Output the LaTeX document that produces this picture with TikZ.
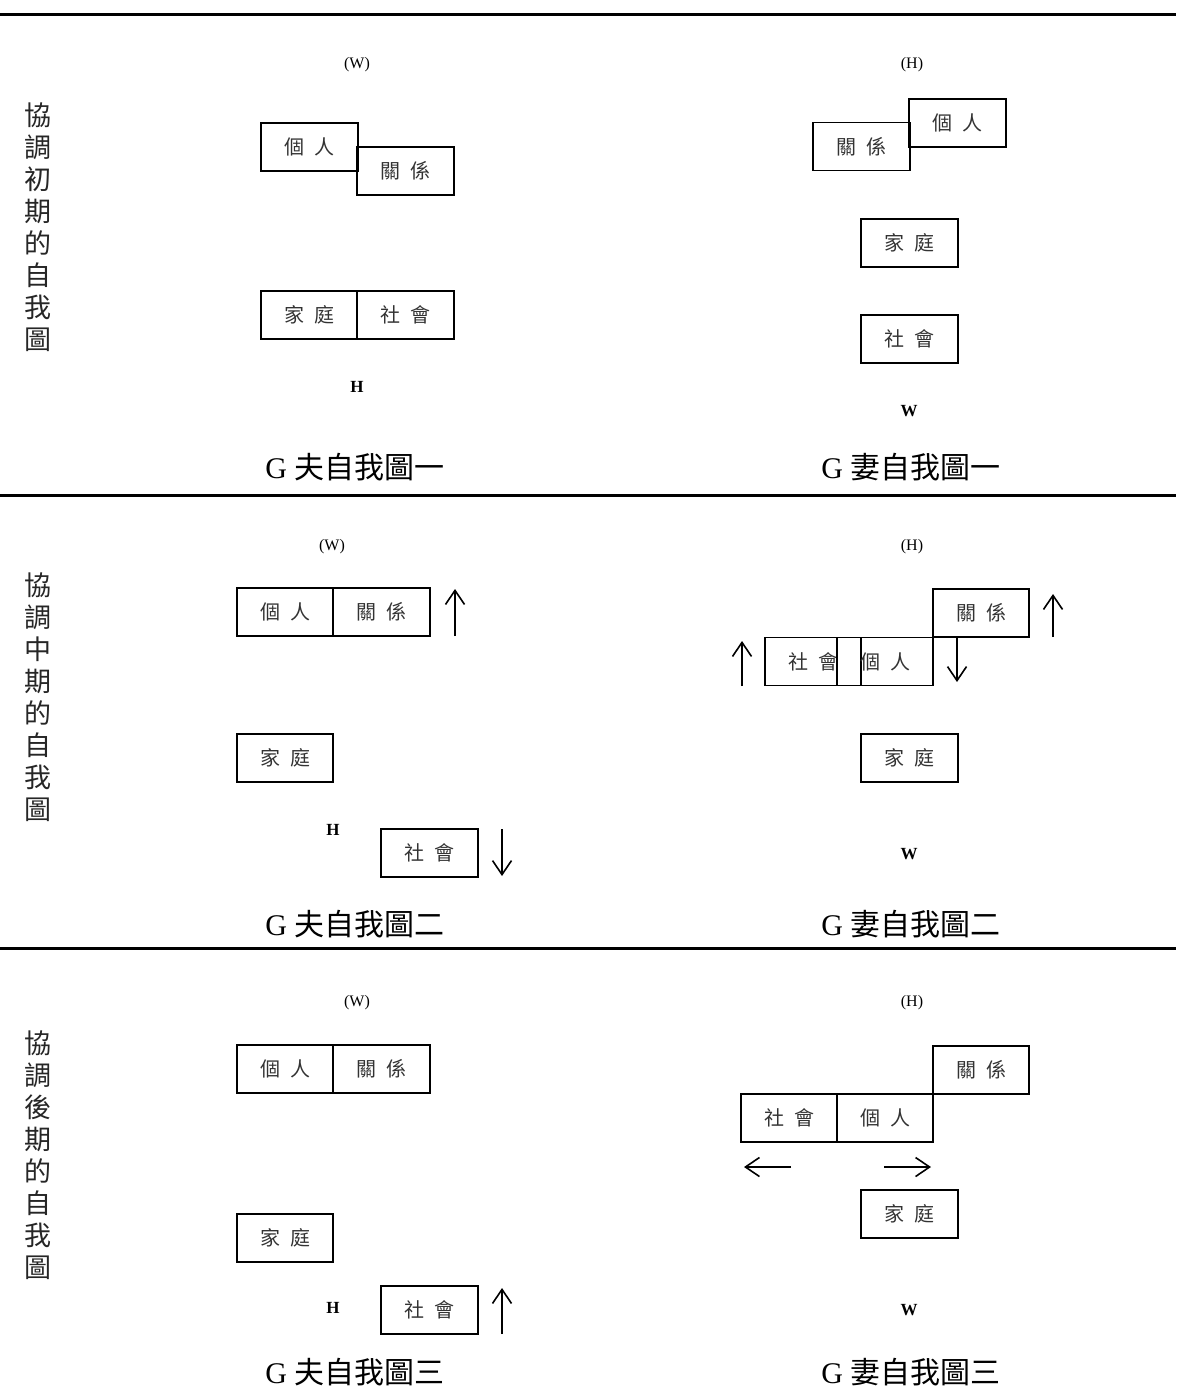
\documentclass[tikz,border=0pt]{standalone}
\usepackage{fontspec}
\setmainfont{Liberation Serif}
\newfontfamily\cjk{Noto Sans CJK TC}
\usetikzlibrary{arrows.meta}
\tikzset{
  cbox/.style={draw, line width=1.8pt, minimum width=96.5pt, minimum height=48pt, inner sep=0pt,
    font=\cjk\fontsize{20}{20}\selectfont, text=black!80},
  tagtext/.style={font=\fontsize{16}{16}\selectfont},
  whotext/.style={font=\bfseries\fontsize{17}{17}\selectfont},
  captext/.style={font=\fontsize{30}{30}\selectfont},
  sidelabel/.style={align=center, font=\cjk\fontsize{27}{32}\selectfont, text=black!85},
  sectrule/.style={line width=3pt},
  mvarrow/.style={line width=1.6pt, -{Straight Barb[length=14pt,width=19pt,line width=1.6pt]}}
}
\newcommand{\gapsp}{\hspace{0.5em}}
\begin{document}
\begin{tikzpicture}[x=1pt,y=-1pt]
\useasboundingbox (0,0) rectangle (1176,1394);
% rules
\coordinate (a0) at (0,14.5); \coordinate (a1) at (1176,14.5);
\coordinate (b0) at (0,495); \coordinate (b1) at (1176,495);
\coordinate (c0) at (0,948.5); \coordinate (c1) at (1176,948.5);
\draw[sectrule] (a0) -- (a1);
\draw[sectrule] (b0) -- (b1);
\draw[sectrule] (c0) -- (c1);
% side labels
\node[sidelabel] (v1) at (38,227) {協\\調\\初\\期\\的\\自\\我\\圖};
\node[sidelabel] (v2) at (38,697) {協\\調\\中\\期\\的\\自\\我\\圖};
\node[sidelabel] (v3) at (38,1155) {協\\調\\後\\期\\的\\自\\我\\圖};
% ===== section 1 =====
\node[tagtext] (tw1) at (357,65) {(W)};
\node[tagtext] (th1) at (912,65) {(H)};
\node[cbox] (p1L) at (309.5,147) {個\gapsp 人};
\node[cbox] (r1L) at (405.5,171) {關\gapsp 係};
\node[cbox] (f1L) at (309,315) {家\gapsp 庭};
\node[cbox] (s1L) at (405.5,315) {社\gapsp 會};
\node[whotext] (h1) at (357,387) {H};
\node[cbox] (r1R) at (861.5,146.5) {關\gapsp 係};
\node[cbox] (p1R) at (957.5,123) {個\gapsp 人};
\node[cbox] (f1R) at (909.5,243) {家\gapsp 庭};
\node[cbox] (s1R) at (909.5,339) {社\gapsp 會};
\node[whotext] (w1) at (909,411) {W};
\node[captext] (c1L) at (355,467) {G {\cjk 夫自我圖一}};
\node[captext] (c1R) at (911,467) {G {\cjk 妻自我圖一}};
% ===== section 2 =====
\node[tagtext] (tw2) at (332,547) {(W)};
\node[tagtext] (th2) at (912,547) {(H)};
\node[cbox] (p2L) at (285,612) {個\gapsp 人};
\node[cbox] (r2L) at (381.5,612) {關\gapsp 係};
\coordinate (u1a) at (455,636); \coordinate (u1b) at (455,589);
\draw[mvarrow] (u1a) -- (u1b);
\node[cbox] (f2L) at (285,758) {家\gapsp 庭};
\node[whotext] (h2) at (333,830) {H};
\node[cbox] (s2L) at (429.5,853) {社\gapsp 會};
\coordinate (d1a) at (502,829); \coordinate (d1b) at (502,876);
\draw[mvarrow] (d1a) -- (d1b);
\node[cbox] (r2R) at (981,613) {關\gapsp 係};
\coordinate (u2a) at (1053,637); \coordinate (u2b) at (1053,594);
\draw[mvarrow] (u2a) -- (u2b);
\node[cbox] (s2R) at (813,661.5) {社\gapsp 會};
\node[cbox] (p2R) at (885,661.5) {個\gapsp 人};
\coordinate (u3a) at (742,686); \coordinate (u3b) at (742,641);
\draw[mvarrow] (u3a) -- (u3b);
\coordinate (d2a) at (957,637); \coordinate (d2b) at (957,682);
\draw[mvarrow] (d2a) -- (d2b);
\node[cbox] (f2R) at (909.5,758) {家\gapsp 庭};
\node[whotext] (w2) at (909,854) {W};
\node[captext] (c2L) at (355,924) {G {\cjk 夫自我圖二}};
\node[captext] (c2R) at (911,924) {G {\cjk 妻自我圖二}};
% ===== section 3 =====
\node[tagtext] (tw3) at (357,1003) {(W)};
\node[tagtext] (th3) at (912,1003) {(H)};
\node[cbox] (p3L) at (285,1069) {個\gapsp 人};
\node[cbox] (r3L) at (381.5,1069) {關\gapsp 係};
\node[cbox] (f3L) at (285,1238) {家\gapsp 庭};
\node[whotext] (h3) at (333,1308) {H};
\node[cbox] (s3L) at (429.5,1310) {社\gapsp 會};
\coordinate (u4a) at (502,1334); \coordinate (u4b) at (502,1288);
\draw[mvarrow] (u4a) -- (u4b);
\node[cbox] (r3R) at (981,1070) {關\gapsp 係};
\node[cbox] (s3R) at (789,1118) {社\gapsp 會};
\node[cbox] (p3R) at (885,1118) {個\gapsp 人};
\coordinate (l1a) at (791,1167); \coordinate (l1b) at (744,1167);
\draw[mvarrow] (l1a) -- (l1b);
\coordinate (r1a) at (884,1167); \coordinate (r1b) at (931,1167);
\draw[mvarrow] (r1a) -- (r1b);
\node[cbox] (f3R) at (909.5,1214) {家\gapsp 庭};
\node[whotext] (w3) at (909,1310) {W};
\node[captext] (c3L) at (355,1372) {G {\cjk 夫自我圖三}};
\node[captext] (c3R) at (911,1372) {G {\cjk 妻自我圖三}};
\end{tikzpicture}
\end{document}
